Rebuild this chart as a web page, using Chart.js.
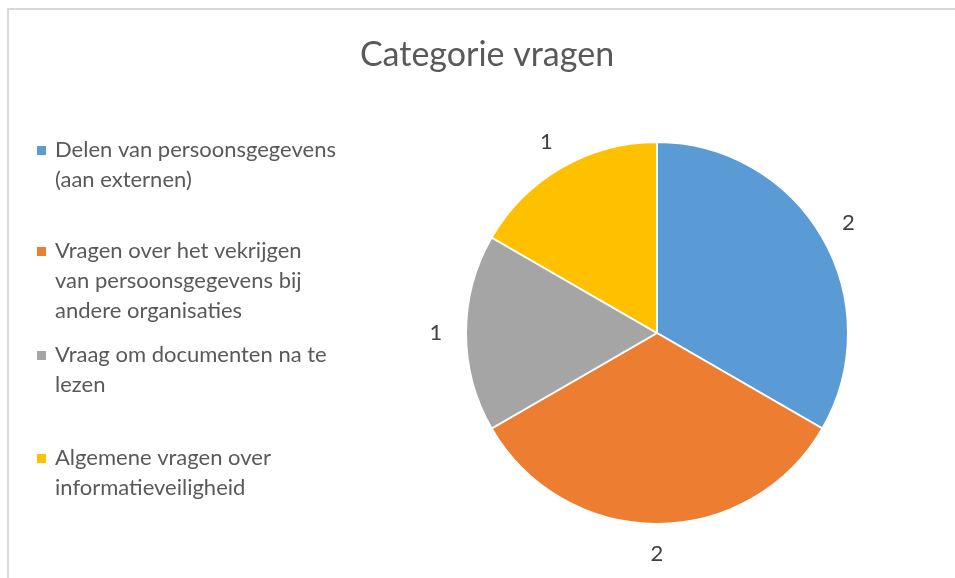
<!DOCTYPE html>
<html>
<head>
<meta charset="utf-8">
<script src="https://cdn.jsdelivr.net/npm/chart.js@4"></script>
<style>
    html, body { margin: 0; padding: 0; background: #fff; }
    #wrap { position: relative; width: 955px; height: 578px; }
    #frame { position: absolute; left: 7px; top: 8px; width: 960px; height: 600px; border: 2px solid #d9d9d9; box-sizing: border-box; }
</style>
</head>
<body>
<div id="wrap">
    <div id="frame"></div>
    <canvas id="pieChart" width="955" height="578"></canvas>
</div>
<script>
// chart data
const title = "Categorie vragen";
const categories = [
    ["Delen van persoonsgegevens", "(aan externen)"],
    ["Vragen over het vekrijgen", "van persoonsgegevens bij", "andere organisaties"],
    ["Vraag om documenten na te", "lezen"],
    ["Algemene vragen over", "informatieveiligheid"]
];
const counts = [2, 2, 1, 1];
const sliceColors = ["#5B9BD5", "#ED7D31", "#A5A5A5", "#FFC000"];

const textColor = "#595959";
const fontName = "Lato, 'Open Sans', sans-serif";

// title, legend and value labels drawn on the canvas
const excelLook = {
    id: "excelLook",
    afterDraw(chart) {
        const ctx = chart.ctx;
        ctx.save();
        ctx.fillStyle = textColor;

        // title
        ctx.font = "34px " + fontName;
        ctx.textAlign = "center";
        ctx.textBaseline = "middle";
        ctx.fillText(title, 487, 55);

        // legend
        const legendTops = [150, 251, 355, 458];
        ctx.font = "22px " + fontName;
        ctx.textAlign = "left";
        categories.forEach((lines, i) => {
            ctx.fillStyle = sliceColors[i];
            ctx.fillRect(37, legendTops[i] - 4, 9, 9);
            ctx.fillStyle = textColor;
            lines.forEach((line, j) => {
                ctx.fillText(line, 55, legendTops[i] + j * 30);
            });
        });

        // value labels outside the slices
        ctx.font = "22px " + fontName;
        ctx.textAlign = "center";
        ctx.fillStyle = "#404040";
        chart.getDatasetMeta(0).data.forEach((arc, i) => {
            const mid = (arc.startAngle + arc.endAngle) / 2;
            const r = arc.outerRadius + 30;
            ctx.fillText(counts[i], arc.x + Math.cos(mid) * r, arc.y + Math.sin(mid) * r);
        });
        ctx.restore();
    }
};

new Chart(document.getElementById("pieChart"), {
    type: "pie",
    data: {
        labels: categories,
        datasets: [{
            data: counts,
            backgroundColor: sliceColors,
            borderColor: "#ffffff",
            borderWidth: 2
        }]
    },
    options: {
        responsive: false,
        animation: false,
        layout: {
            padding: { top: 141, bottom: 53, left: 465, right: 106 }
        },
        plugins: {
            legend: { display: false },
            title: { display: false },
            tooltip: { enabled: false }
        }
    },
    plugins: [excelLook]
});
</script>
</body>
</html>
